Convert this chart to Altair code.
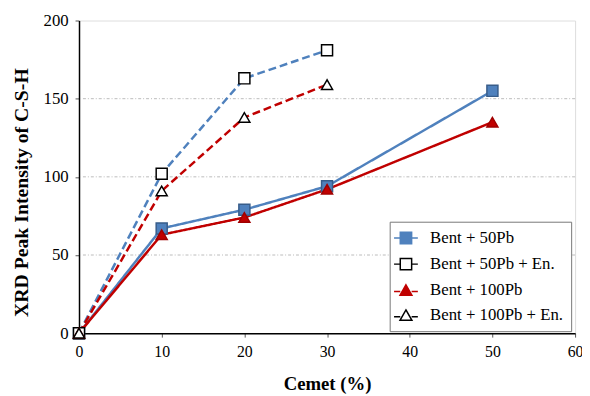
import altair as alt
import pandas as pd

series_names = ["Bent + 50Pb", "Bent + 50Pb + En.", "Bent + 100Pb", "Bent + 100Pb + En."]
x_50pb = [0, 10, 20, 30, 50]
y_50pb = [0, 67, 79, 94, 155]
x_50pb_en = [0, 10, 20, 30]
y_50pb_en = [0, 102, 163, 181]
x_100pb = [0, 10, 20, 30, 50]
y_100pb = [0, 63, 74, 92, 135]
x_100pb_en = [0, 10, 20, 30]
y_100pb_en = [0, 91, 138, 159]
grid_values = [50, 100, 150]

rows = []
for name, xs, ys in zip(series_names,
                        [x_50pb, x_50pb_en, x_100pb, x_100pb_en],
                        [y_50pb, y_50pb_en, y_100pb, y_100pb_en]):
    for xv, yv in zip(xs, ys):
        rows.append({"series": name, "cement": xv, "intensity": yv})
df = pd.DataFrame(rows)
grid_df = pd.DataFrame({"g": grid_values})

line_colors = ["#4F81BD", "#4F81BD", "#C00000", "#C00000"]
fill_colors = ["#4F81BD", "#FFFFFF", "#C00000", "#FFFFFF"]
stroke_colors = ["#385D8A", "#000000", "#A00000", "#000000"]
legend_strokes = ["#4F81BD", "#000000", "#C00000", "#000000"]
shapes = ["square", "square", "triangle-up", "triangle-up"]
dashes = [[1, 0], [8, 4], [1, 0], [8, 4]]

FONT = "Liberation Serif"

xscale = alt.Scale(domain=[0, 60], nice=False, zero=False)
yscale = alt.Scale(domain=[0, 200], nice=False)

sq = "M-2.3,0H-1.1M1.1,0H2.3M-1.1,-1.1H1.1V1.1H-1.1Z"
tri = "M-2.3,0.25H-1.1M1.1,0.25H2.3M0,-1.05L1.15,0.95H-1.15Z"
legend_shapes = [sq, sq, tri, tri]

grid = alt.Chart(grid_df).mark_rule(color="#BBBBBB", strokeWidth=1, strokeDash=[3, 2, 1, 2]).encode(
    y=alt.Y("g:Q", scale=yscale)
)

lines = alt.Chart(df).mark_line(strokeWidth=2.5).encode(
    x=alt.X("cement:Q", scale=xscale),
    y=alt.Y("intensity:Q", scale=yscale),
    color=alt.Color("series:N", scale=alt.Scale(domain=series_names, range=line_colors), legend=None),
    strokeDash=alt.StrokeDash("series:N", scale=alt.Scale(domain=series_names, range=dashes), legend=None),
    detail="series:N",
)

points = alt.Chart(df).mark_point(size=125, filled=True, strokeWidth=1.5, opacity=1).encode(
    x=alt.X("cement:Q", scale=xscale,
            axis=alt.Axis(title="Cemet (%)", values=[0, 10, 20, 30, 40, 50, 60], grid=False,
                          labelFont=FONT, labelFontSize=16, labelColor="#000", titleFont=FONT,
                          titleFontSize=19, titleFontWeight="bold", titleColor="#000",
                          tickColor="#555", domainColor="#000", domainWidth=1.5, labelPadding=7,
                          titlePadding=15, tickSize=4, labelFlush=False)),
    y=alt.Y("intensity:Q", scale=yscale,
            axis=alt.Axis(title="XRD Peak Intensity of C-S-H", values=[0, 25, 50, 75, 100, 125, 150, 175, 200],
                          labelExpr="datum.value % 50 == 0 ? datum.label : ''", grid=False,
                          labelFont=FONT, labelFontSize=17, labelColor="#000", titleFont=FONT,
                          titleFontSize=20, titleFontWeight="bold", titleColor="#000",
                          tickColor="#555", domainColor="#000", domainWidth=1.5, labelPadding=7,
                          titlePadding=12, tickSize=4, titleY=174)),
    shape=alt.Shape("series:N", scale=alt.Scale(domain=series_names, range=shapes), legend=None),
    fill=alt.Fill("series:N", scale=alt.Scale(domain=series_names, range=fill_colors), legend=None),
    stroke=alt.Stroke("series:N", scale=alt.Scale(domain=series_names, range=stroke_colors), legend=None),
)

legend_cfg = dict(title=None, orient="none", legendX=315, legendY=204,
                  labelFont=FONT, labelFontSize=17, labelColor="#000",
                  fillColor="white", strokeColor="#777", padding=8,
                  rowPadding=7.5, symbolSize=110, symbolStrokeWidth=1.5,
                  symbolOpacity=1, labelOffset=16)

legend_layer = alt.Chart(df).transform_filter("false").mark_point(filled=True, strokeWidth=1.5).encode(
    x=alt.X("cement:Q", scale=xscale),
    y=alt.Y("intensity:Q", scale=yscale),
    shape=alt.Shape("series:N", scale=alt.Scale(domain=series_names, range=legend_shapes),
                    legend=alt.Legend(**legend_cfg)),
    fill=alt.Fill("series:N", scale=alt.Scale(domain=series_names, range=fill_colors),
                  legend=alt.Legend(**legend_cfg)),
    stroke=alt.Stroke("series:N", scale=alt.Scale(domain=series_names, range=legend_strokes),
                      legend=alt.Legend(**legend_cfg)),
)

chart = alt.layer(grid, lines, points, legend_layer).resolve_scale(
    shape="independent", color="independent", fill="independent", stroke="independent"
).properties(
    width=503, height=317,
    autosize=alt.AutoSizeParams(type="none"),
    padding={"left": 72, "top": 10, "right": 7, "bottom": 60},
).configure_view(stroke="#000", strokeWidth=1.5).configure(background="white")

chart.save("out.html", embed_options={"renderer": "svg", "actions": False})
